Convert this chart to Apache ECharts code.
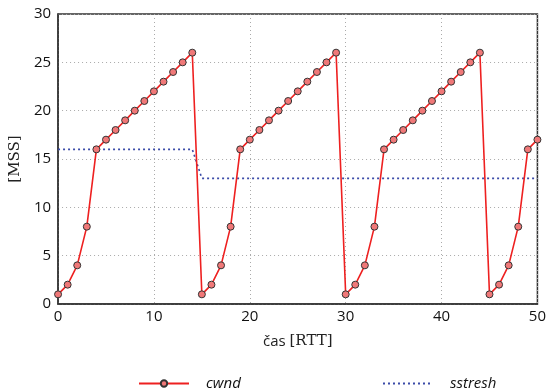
<!DOCTYPE html>
<html><head><meta charset="utf-8">
<script src="https://cdn.jsdelivr.net/npm/echarts@6/dist/echarts.min.js"></script>
<style>html,body{margin:0;padding:0;background:#fff}#c{width:549px;height:389px}</style>
</head><body><div id="c"></div>
<script>
var time = [0,1,2,3,4,5,6,7,8,9,10,11,12,13,14,15,16,17,18,19,20,21,22,23,24,25,26,27,28,29,30,31,32,33,34,35,36,37,38,39,40,41,42,43,44,45,46,47,48,49,50];
var cwnd = [1,2,4,8,16,17,18,19,20,21,22,23,24,25,26,1,2,4,8,16,17,18,19,20,21,22,23,24,25,26,1,2,4,8,16,17,18,19,20,21,22,23,24,25,26,1,2,4,8,16,17];
var ssTime = [0,14,15,50];
var sstresh = [16,16,13,13];
var xTicks = [0,10,20,30,40,50];
var yTicks = [0,5,10,15,20,25,30];

var chart = echarts.init(document.getElementById('c'), null, {renderer:'canvas'});
var font = 'Open Sans';
chart.setOption({
  animation:false,
  grid:{left:55,right:10,top:14,bottom:85,show:true,borderColor:'#333',borderWidth:1.5},
  xAxis:{type:'value',min:0,max:50,interval:10,
    name:'{a|čas }{b|[RTT]}',nameLocation:'middle',nameGap:30,
    nameTextStyle:{rich:{a:{fontFamily:font,fontSize:15,color:'#222'},b:{fontFamily:'DejaVu Serif',fontSize:15,color:'#222'}}},
    axisLine:{show:true,lineStyle:{color:'#333',width:1.5}},axisTick:{show:false},
    axisLabel:{fontFamily:font,fontSize:15,color:'#111',margin:5},
    splitLine:{show:true,lineStyle:{type:[1,3],color:'#aaa',width:1}}},
  yAxis:{type:'value',min:0,max:30,interval:5,
    name:'[MSS]',nameLocation:'middle',nameGap:31,
    nameTextStyle:{fontFamily:'DejaVu Serif',fontSize:15,color:'#222'},
    axisLine:{show:true,lineStyle:{color:'#333',width:1.5}},axisTick:{show:false},
    axisLabel:{fontFamily:font,fontSize:15,color:'#111',margin:7},
    splitLine:{show:true,lineStyle:{type:[1,3],color:'#aaa',width:1}}},
  legend:[{data:['cwnd'],left:133,top:371,itemWidth:50,itemHeight:8,itemGap:10,
    textStyle:{fontFamily:font,fontSize:15,fontStyle:'italic',color:'#111',padding:[0,0,0,12]}},
    {data:['sstresh'],left:377,top:371,itemWidth:50,itemHeight:8,
    itemStyle:{opacity:0},
    textStyle:{fontFamily:font,fontSize:15,fontStyle:'italic',color:'#111',padding:[0,0,0,12]}}],
  series:[
    {name:'cwnd',type:'line',data:time.map(function(t,i){return [t,cwnd[i]];}),
     symbol:'circle',symbolSize:7,
     lineStyle:{color:'#ee2020',width:1.6},
     itemStyle:{color:'#f07878',borderColor:'#333',borderWidth:1},z:3},
    {name:'sstresh',type:'line',data:ssTime.map(function(t,i){return [t,sstresh[i]];}),
     symbol:'none',
     lineStyle:{color:'#3a4aa8',width:1.6,type:[2,3]},
     itemStyle:{color:'#3a4aa8'},z:2}
  ]
});
</script></body></html>
